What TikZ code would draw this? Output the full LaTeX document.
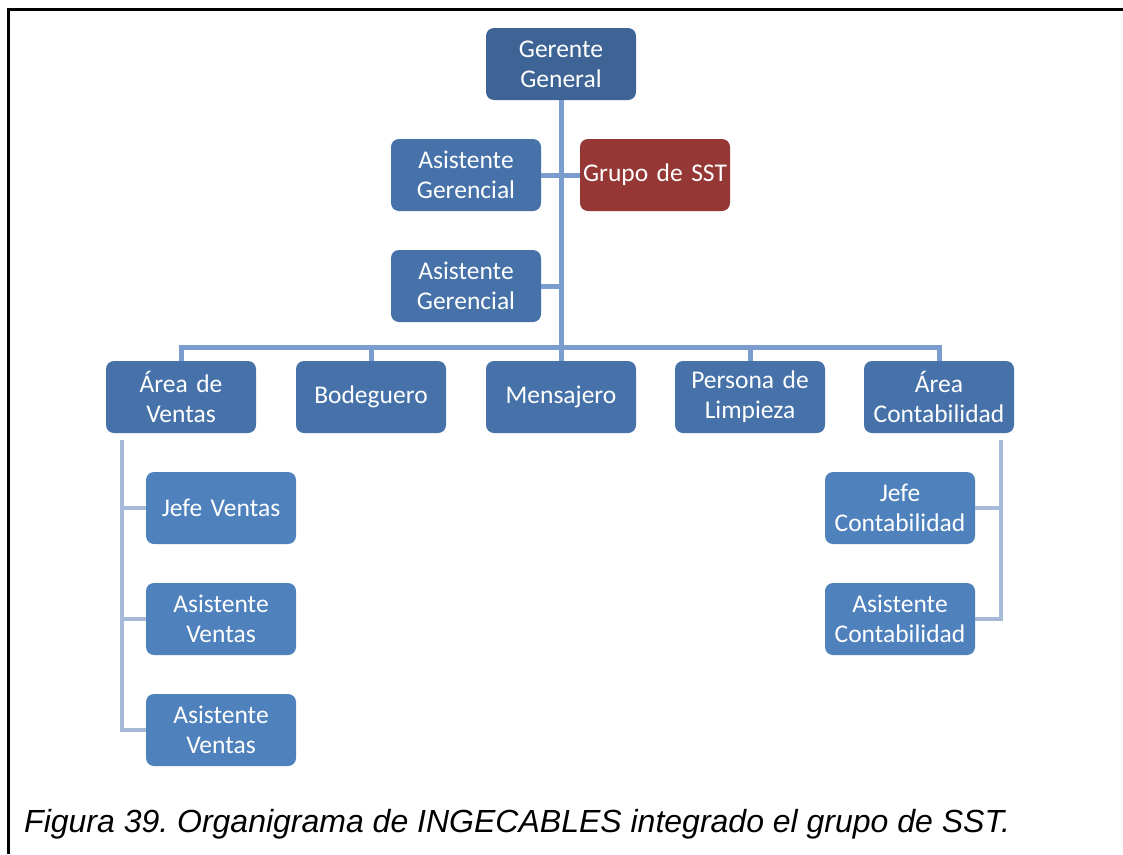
\documentclass[tikz,border=0pt]{standalone}
\usepackage{fontspec}
\setmainfont{Carlito}
\newfontfamily\capfont{Liberation Sans}
\usepackage{tikz}

\definecolor{topblue}{HTML}{3E6496}
\definecolor{midblue}{HTML}{4672A9}
\definecolor{lowblue}{HTML}{4F81BD}
\definecolor{sstred}{HTML}{953735}
\definecolor{trunkblue}{HTML}{7B9CCF}
\definecolor{twigblue}{HTML}{A7B9D9}

\begin{document}
\frenchspacing
\begin{tikzpicture}[x=1pt,y=-1pt,
        box/.style={rectangle,rounded corners=8pt,minimum width=150pt,minimum height=72pt,
            text width=148pt,align=center,inner sep=0pt,text=white,
            font=\fontsize{25.5}{30}\selectfont},
        topbox/.style={box,fill=topblue},
        midbox/.style={box,fill=midblue},
        lowbox/.style={box,fill=lowblue},
        sstbox/.style={box,fill=sstred},
        trunk/.style={draw=trunkblue,line width=5pt},
        twig/.style={draw=twigblue,line width=4pt}]

    \useasboundingbox (0,0) rectangle (1123,854);
    \draw[line width=3pt] (8.5,854) |- (1123,9.5);

    % top of the chart
    \node[topbox] (gg) at (561,64) {Gerente\\General};
    \node[midbox] (ag1) at (466,175) {Asistente\\Gerencial};
    \node[sstbox] (sst) at (655,175) {Grupo de SST};
    \node[midbox] (ag2) at (466,286) {Asistente\\Gerencial};

    % second row
    \node[midbox] (av) at (181,397) {Área de\\Ventas};
    \node[midbox] (bod) at (371,397) {Bodeguero};
    \node[midbox] (men) at (561,397) {Mensajero};
    \node[midbox] (lim) at (750,397) {Persona de\\Limpieza};
    \node[midbox] (ac) at (939,397) {Área\\Contabilidad};

    % under the areas
    \node[lowbox] (jv) at (221,508) {Jefe Ventas};
    \node[lowbox] (asv1) at (221,619) {Asistente\\Ventas};
    \node[lowbox] (asv2) at (221,730) {Asistente\\Ventas};
    \node[lowbox] (jc) at (900,508) {Jefe\\Contabilidad};
    \node[lowbox] (asc) at (900,619) {Asistente\\Contabilidad};

    \coordinate (bus) at (561,347);
    \coordinate (vtop) at (122,440);
    \coordinate (ctop) at (1001,440);

    \draw[trunk] (gg.south) -- (bus);
    \draw[trunk] (av.north) |- (bus) -| (ac.north);
    \draw[trunk] (bod.north) -- (bod.north |- bus);
    \draw[trunk] (men.north) -- (men.north |- bus);
    \draw[trunk] (lim.north) -- (lim.north |- bus);
    \draw[trunk] (ag1.east) -- (ag1.east -| bus);
    \draw[trunk] (ag2.east) -- (ag2.east -| bus);
    \draw[trunk] (sst.west) -- (sst.west -| bus);

    \draw[twig] (vtop) |- (asv2.west);
    \draw[twig] (jv.west) -- (jv.west -| vtop);
    \draw[twig] (asv1.west) -- (asv1.west -| vtop);
    \draw[twig] (ctop) |- (asc.east);
    \draw[twig] (jc.east) -- (jc.east -| ctop);

    \node[anchor=base west,inner sep=0pt,font=\capfont\itshape\fontsize{32}{38}\selectfont] (cap) at (24,832)
        {Figura 39. Organigrama de INGECABLES integrado el grupo de SST.};
\end{tikzpicture}
\end{document}
